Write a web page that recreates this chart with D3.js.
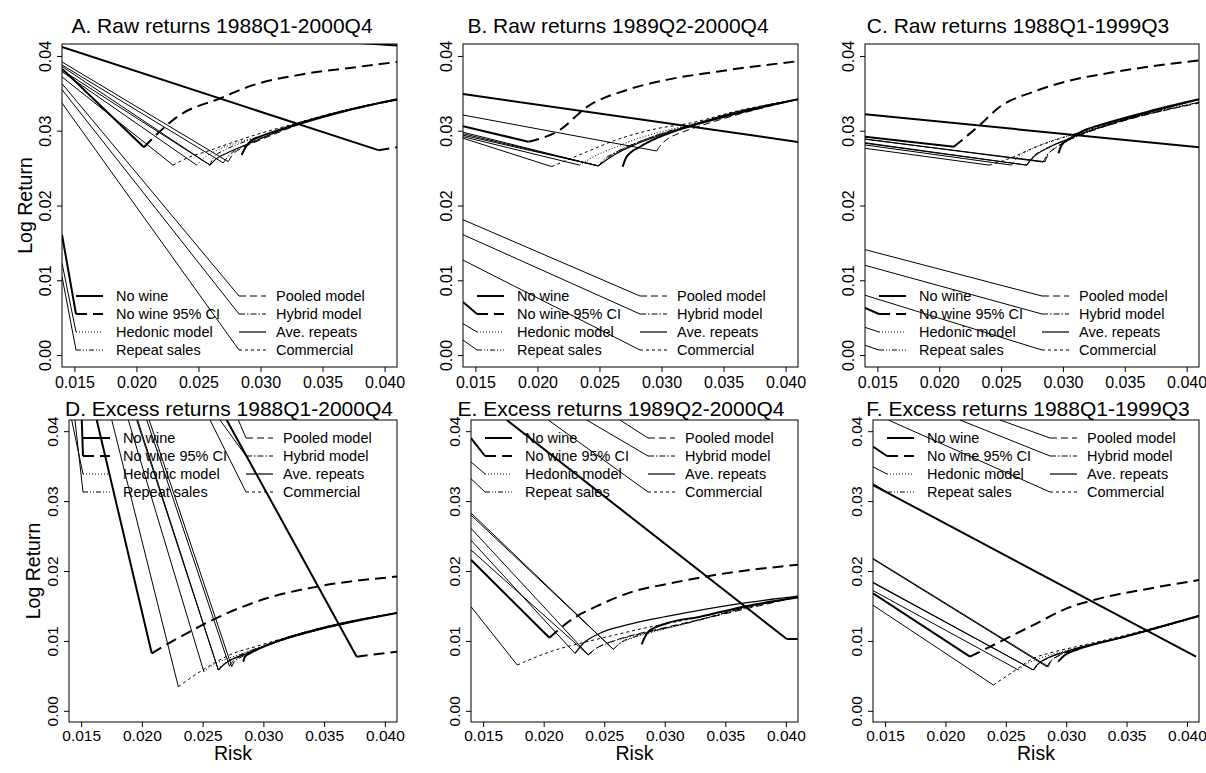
<!DOCTYPE html>
<html>
<head>
<meta charset="utf-8">
<script src="https://cdn.jsdelivr.net/npm/d3@7"></script>
<style>
  html, body { margin: 0; padding: 0; background: #fff; }
  svg { display: block; font-family: "Liberation Sans", Arial, sans-serif; }
</style>
</head>
<body>
<svg id="chart" width="1206" height="773"></svg>
<script>
// ---- shared axis settings -------------------------------------------------
const xDomain = [0.014, 0.041];
const yDomain = [-0.0016, 0.0416];
const xTicks = [0.015, 0.020, 0.025, 0.030, 0.035, 0.040];
const yTicks = [0.00, 0.01, 0.02, 0.03, 0.04];

// legend entries: [series key, label]
const legendKeys = ["noWine", "noWineCI", "hedonic", "repeatSales", "pooled", "hybrid", "aveRepeats", "commercial"];
const legendLabels = ["No wine", "No wine 95% CI", "Hedonic model", "Repeat sales", "Pooled model", "Hybrid model", "Ave. repeats", "Commercial"];

const panelTitles = [
  "A. Raw returns 1988Q1-2000Q4", "B. Raw returns 1989Q2-2000Q4", "C. Raw returns 1988Q1-1999Q3",
  "D. Excess returns 1988Q1-2000Q4", "E. Excess returns 1989Q2-2000Q4", "F. Excess returns 1988Q1-1999Q3"
];

// ---- Panel A: frontier branches, connector segments, legend connectors -------
const curvesA = [
  ["noWineCI", [[0.0206,0.0278],[0.0235,0.0321],[0.0267,0.0343],[0.0294,0.0361],[0.0332,0.0375],[0.0372,0.0384],[0.041,0.0392]]],
  ["noWineCI", [[0.0395,0.0274],[0.041,0.0278]]],
  ["noWine", [[0.0374,0.0418],[0.041,0.0414]]],
  ["noWine", [[0.02848,0.02675],[0.02875,0.02765],[0.02915,0.02853],[0.02996,0.0292],[0.0315,0.0301],[0.0335,0.0311],[0.037,0.0327],[0.041,0.0342]]],
  ["commercial", [[0.02295,0.0254],[0.0243,0.0265],[0.0258,0.0273],[0.0275,0.0283],[0.0295,0.0294],[0.032,0.0306],[0.036,0.0324],[0.041,0.0342]]],
  ["hedonic", [[0.02486,0.0254],[0.0254,0.0263],[0.0264,0.0273],[0.0279,0.0283],[0.030,0.0293],[0.0325,0.0308],[0.036,0.0323],[0.041,0.0342]]],
  ["repeatSales", [[0.02593,0.0254],[0.0262,0.0264],[0.0271,0.0274],[0.0285,0.0284],[0.0303,0.0294],[0.033,0.031],[0.041,0.0342]]],
  ["aveRepeats", [[0.02593,0.0254],[0.0264,0.0262],[0.0274,0.0271],[0.0288,0.0281],[0.0305,0.0293],[0.033,0.0309],[0.041,0.0342]]],
  ["hybrid", [[0.0270,0.0257],[0.0274,0.0266],[0.0282,0.0276],[0.0294,0.0285],[0.031,0.0296],[0.0335,0.0311],[0.041,0.0341]]],
  ["pooled", [[0.0274,0.02586],[0.0277,0.0267],[0.0284,0.0276],[0.0296,0.0285],[0.0312,0.0296],[0.0335,0.0311],[0.041,0.0341]]]
];
const tailsA = [
  ["noWine", [0.014,0.0412], [0.0395,0.0274]],
  ["noWineCI", [0.014,0.0383], [0.0206,0.0278]],
  ["commercial", [0.014,0.0372], [0.02295,0.0254]],
  ["hedonic", [0.014,0.0379], [0.02486,0.0254]],
  ["repeatSales", [0.014,0.0381], [0.02593,0.0254]],
  ["aveRepeats", [0.014,0.0386], [0.02593,0.0254]],
  ["hybrid", [0.014,0.0388], [0.0270,0.0257]],
  ["pooled", [0.014,0.0392], [0.0274,0.02586]]
];
const linksA = [
  ["pooled", [0.014,0.0363]], ["hybrid", [0.014,0.0355]], ["commercial", [0.014,0.0337]],
  ["noWineCI", [0.014,0.0161]], ["hedonic", [0.014,0.0123]], ["repeatSales", [0.014,0.0105]]
];

// ---- Panel B ----------------------------------------------------------------
const curvesB = [
  ["noWineCI", [[0.01927,0.02853],[0.0218,0.0301],[0.024,0.0332],[0.0272,0.03545],[0.0304,0.0368],[0.03445,0.0379],[0.041,0.0393]]],
  ["noWine", [[0.02687,0.02519],[0.02719,0.02653],[0.02827,0.02786],[0.02988,0.0292],[0.03176,0.03032],[0.034,0.0314],[0.037,0.0327],[0.041,0.0342]]],
  ["pooled", [[0.02961,0.02729],[0.02985,0.0279],[0.0304,0.0288],[0.0315,0.0297],[0.0325,0.0303],[0.036,0.0321],[0.041,0.0342]]],
  ["commercial", [[0.02115,0.0252],[0.024,0.0272],[0.0264,0.0288],[0.0294,0.0302],[0.0325,0.0311],[0.036,0.0326],[0.041,0.0342]]],
  ["hedonic", [[0.0234,0.0254],[0.0245,0.0265],[0.026,0.0276],[0.028,0.0289],[0.0303,0.0300],[0.0325,0.0309],[0.036,0.0325],[0.041,0.0342]]],
  ["repeatSales", [[0.0249,0.0253],[0.0256,0.0263],[0.0268,0.0275],[0.0285,0.0287],[0.0305,0.0299],[0.0325,0.0308],[0.036,0.0324],[0.041,0.0342]]],
  ["hybrid", [[0.0249,0.0253],[0.0254,0.0262],[0.0264,0.0272],[0.028,0.0284],[0.030,0.0296],[0.0325,0.0307],[0.036,0.0324],[0.041,0.0342]]],
  ["aveRepeats", [[0.0249,0.0253],[0.0262,0.0268],[0.0278,0.0281],[0.0297,0.0293],[0.0325,0.0308],[0.036,0.0325],[0.041,0.0342]]]
];
const tailsB = [
  ["noWine", [0.014,0.0349], [0.041,0.0285]],
  ["noWineCI", [0.014,0.0306], [0.01927,0.02853]],
  ["pooled", [0.014,0.0321], [0.02961,0.02729]],
  ["commercial", [0.014,0.0290], [0.02115,0.0252]],
  ["hedonic", [0.014,0.0292], [0.0234,0.0254]],
  ["repeatSales", [0.014,0.0294], [0.0249,0.0253]],
  ["hybrid", [0.014,0.0296], [0.0249,0.0253]],
  ["aveRepeats", [0.014,0.0298], [0.0249,0.0253]]
];
const linksB = [
  ["pooled", [0.014,0.0181]], ["hybrid", [0.014,0.0161]], ["commercial", [0.014,0.0127]],
  ["noWineCI", [0.014,0.0071]], ["hedonic", [0.014,0.0042]], ["repeatSales", [0.014,0.0020]]
];

// ---- Panel C ----------------------------------------------------------------
const curvesC = [
  ["noWineCI", [[0.0212,0.02787],[0.0233,0.0308],[0.0249,0.0332],[0.0276,0.0352],[0.0303,0.0366],[0.03435,0.0379],[0.041,0.0394]]],
  ["noWine", [[0.02963,0.02698],[0.0299,0.0281],[0.0305,0.0289],[0.03165,0.0300],[0.0335,0.0310],[0.037,0.0326],[0.041,0.0342]]],
  ["commercial", [[0.02405,0.0254],[0.026,0.0265],[0.0276,0.0277],[0.0293,0.0287],[0.0314,0.0298],[0.0344,0.0313],[0.0384,0.0331],[0.041,0.0342]]],
  ["hedonic", [[0.02586,0.0254],[0.0263,0.0264],[0.0273,0.0274],[0.029,0.0286],[0.031,0.0296],[0.0344,0.0312],[0.041,0.0341]]],
  ["repeatSales", [[0.02707,0.0254],[0.0275,0.0264],[0.0285,0.0275],[0.030,0.0286],[0.0315,0.0296],[0.0344,0.0311],[0.041,0.0338]]],
  ["aveRepeats", [[0.02707,0.0254],[0.0277,0.0266],[0.0289,0.0278],[0.0303,0.0288],[0.0318,0.0298],[0.0344,0.0312],[0.041,0.0342]]],
  ["pooled", [[0.02855,0.02586],[0.0288,0.0268],[0.0295,0.0278],[0.0305,0.0288],[0.0318,0.0297],[0.0344,0.0311],[0.041,0.0337]]],
  ["hybrid", [[0.0284,0.0258],[0.0287,0.0267],[0.0293,0.0276],[0.0303,0.0286],[0.0317,0.0296],[0.0344,0.0311],[0.041,0.0338]]]
];
const tailsC = [
  ["noWine", [0.014,0.0322], [0.041,0.0278]],
  ["noWineCI", [0.014,0.0292], [0.0212,0.02787]],
  ["commercial", [0.014,0.02765], [0.02405,0.0254]],
  ["hedonic", [0.014,0.0281], [0.02586,0.0254]],
  ["repeatSales", [0.014,0.02832], [0.02707,0.0254]],
  ["aveRepeats", [0.014,0.0284], [0.02707,0.0254]],
  ["pooled", [0.014,0.02886], [0.02855,0.02586]],
  ["hybrid", [0.014,0.0289], [0.0284,0.0258]]
];
const linksC = [
  ["pooled", [0.014,0.0141]], ["hybrid", [0.014,0.0120]], ["commercial", [0.014,0.0080]],
  ["noWineCI", [0.014,0.0063]], ["hedonic", [0.014,0.0037]], ["repeatSales", [0.014,0.0013]]
];

// ---- Panel D ----------------------------------------------------------------
const curvesD = [
  ["noWineCI", [[0.02081,0.00822],[0.02369,0.01109],[0.02698,0.01394],[0.03027,0.0161],[0.03439,0.01775],[0.041,0.0192]]],
  ["noWineCI", [[0.03768,0.00774],[0.041,0.00846]]],
  ["noWine", [[0.02835,0.00703],[0.02849,0.00775],[0.0289,0.00823],[0.02972,0.00894],[0.0311,0.0099],[0.0347,0.0117],[0.041,0.0140]]],
  ["commercial", [[0.023,0.00345],[0.02478,0.0056],[0.02615,0.00703],[0.02752,0.00822],[0.0290,0.0090],[0.0311,0.0101],[0.0347,0.0118],[0.041,0.0140]]],
  ["hedonic", [[0.0251,0.0056],[0.0258,0.0065],[0.0268,0.0073],[0.0283,0.0082],[0.0297,0.0091],[0.0311,0.0100],[0.0347,0.0118],[0.041,0.0140]]],
  ["repeatSales", [[0.02629,0.00584],[0.0266,0.0065],[0.0271,0.0071],[0.02835,0.0082],[0.0297,0.0091],[0.0311,0.0100],[0.041,0.0140]]],
  ["aveRepeats", [[0.02629,0.00584],[0.0268,0.0067],[0.0276,0.0075],[0.0288,0.0083],[0.030,0.0092],[0.0312,0.0100],[0.041,0.0140]]],
  ["hybrid", [[0.0274,0.00631],[0.0276,0.0070],[0.0282,0.0077],[0.0291,0.0085],[0.0302,0.0093],[0.0315,0.0101],[0.041,0.0140]]],
  ["pooled", [[0.0272,0.0064],[0.0275,0.0071],[0.0281,0.0078],[0.0290,0.0085],[0.0301,0.0093],[0.0315,0.0101],[0.041,0.0140]]]
];
const tailsD = [
  ["noWine", [0.02698,0.0416], [0.03768,0.00774]],
  ["noWineCI", [0.01628,0.0416], [0.02081,0.00822]],
  ["commercial", [0.01752,0.0416], [0.023,0.00345]],
  ["hedonic", [0.01888,0.0416], [0.0251,0.0056]],
  ["repeatSales", [0.01957,0.0416], [0.02629,0.00584]],
  ["aveRepeats", [0.01965,0.0416], [0.02629,0.00584]],
  ["pooled", [0.0204,0.0416], [0.0272,0.0064]],
  ["hybrid", [0.0206,0.0416], [0.0274,0.00631]]
];
const linksD = [
  ["hedonic", [0.01422,0.0416]], ["repeatSales", [0.01449,0.0416]], ["noWineCI", [0.01505,0.0416]],
  ["commercial", [0.02561,0.0416]], ["hybrid", [0.02643,0.0416]], ["pooled", [0.02794,0.0416]]
];

// ---- Panel E ----------------------------------------------------------------
const curvesE = [
  ["noWineCI", [[0.02047,0.01046],[0.02245,0.01322],[0.02465,0.01517],[0.0274,0.01708],[0.03016,0.01813],[0.03429,0.01947],[0.041,0.0209]]],
  ["noWineCI", [[0.04007,0.01027],[0.041,0.01027]]],
  ["noWine", [[0.02809,0.00951],[0.02864,0.01132],[0.03016,0.01252],[0.03292,0.01347],[0.0368,0.0150],[0.041,0.0162]]],
  ["commercial", [[0.01782,0.00655],[0.02053,0.00845],[0.02355,0.00988],[0.02576,0.0108],[0.0285,0.0119],[0.032,0.0131],[0.0368,0.0149],[0.041,0.0163]]],
  ["aveRepeats", [[0.02259,0.0082],[0.0233,0.0097],[0.02465,0.0111],[0.0274,0.0125],[0.03016,0.0135],[0.03566,0.0152],[0.041,0.0164]]],
  ["repeatSales", [[0.02369,0.008],[0.0242,0.0088],[0.0252,0.0096],[0.0268,0.0105],[0.029,0.0114],[0.032,0.0126],[0.0368,0.0148],[0.041,0.0163]]],
  ["pooled", [[0.02369,0.008],[0.0244,0.0090],[0.0256,0.0099],[0.0273,0.0108],[0.0295,0.0117],[0.0325,0.0129],[0.041,0.0163]]],
  ["hedonic", [[0.02575,0.0088],[0.0262,0.0095],[0.0270,0.0102],[0.0285,0.0110],[0.030,0.0117],[0.032,0.0126],[0.0368,0.0148],[0.041,0.0163]]],
  ["hybrid", [[0.02575,0.0088],[0.0264,0.0098],[0.0275,0.0106],[0.029,0.0114],[0.031,0.0122],[0.0368,0.0148],[0.041,0.0163]]]
];
const tailsE = [
  ["noWine", [0.01695,0.0416], [0.04007,0.01027]],
  ["noWineCI", [0.014,0.0216], [0.02047,0.01046]],
  ["commercial", [0.014,0.0149], [0.01782,0.00655]],
  ["aveRepeats", [0.014,0.0244], [0.02259,0.0082]],
  ["repeatSales", [0.014,0.0261], [0.02369,0.008]],
  ["pooled", [0.014,0.0230], [0.02369,0.008]],
  ["hedonic", [0.014,0.0283], [0.02575,0.0088]],
  ["hybrid", [0.014,0.0280], [0.02575,0.0088]]
];
const linksE = [
  ["noWineCI", [0.014,0.0390]], ["hedonic", [0.014,0.0356]], ["repeatSales", [0.014,0.0332]],
  ["commercial", [0.02038,0.0416]], ["hybrid", [0.02355,0.0416]], ["pooled", [0.0263,0.0416]]
];

// ---- Panel F ----------------------------------------------------------------
const curvesF = [
  ["noWineCI", [[0.02203,0.00774],[0.02342,0.00893],[0.02507,0.01036],[0.02728,0.01227],[0.03005,0.01465],[0.0328,0.01608],[0.03694,0.01751],[0.041,0.01871]]],
  ["noWine", [[0.02934,0.00703],[0.0299,0.00798],[0.03087,0.00873],[0.0325,0.0096],[0.0344,0.0104],[0.0367,0.0115],[0.041,0.0136]]],
  ["commercial", [[0.02397,0.00369],[0.02562,0.0056],[0.02728,0.00751],[0.0287,0.0083],[0.0309,0.0092],[0.0344,0.0106],[0.0367,0.0116],[0.041,0.0136]]],
  ["hedonic", [[0.02604,0.00584],[0.0265,0.0065],[0.0275,0.0073],[0.0289,0.0081],[0.0309,0.0090],[0.0344,0.0105],[0.041,0.0136]]],
  ["aveRepeats", [[0.02728,0.00584],[0.0276,0.0066],[0.0284,0.0075],[0.0297,0.0083],[0.0312,0.0091],[0.0344,0.0104],[0.041,0.0136]]],
  ["repeatSales", [[0.02728,0.00584],[0.0278,0.0068],[0.0287,0.0077],[0.0300,0.0085],[0.0315,0.0092],[0.0344,0.0104],[0.041,0.0135]]],
  ["pooled", [[0.02852,0.00632],[0.0287,0.0070],[0.0293,0.0078],[0.0302,0.0085],[0.0316,0.0092],[0.0344,0.0104],[0.041,0.0135]]],
  ["hybrid", [[0.0284,0.0063],[0.0287,0.0071],[0.0294,0.0079],[0.0304,0.0086],[0.0318,0.0093],[0.0344,0.0104],[0.041,0.0135]]]
];
const tailsF = [
  ["noWine", [0.014,0.0323], [0.04075,0.00774]],
  ["noWineCI", [0.014,0.0168], [0.02203,0.00774]],
  ["commercial", [0.014,0.0151], [0.02397,0.00369]],
  ["hedonic", [0.014,0.0172], [0.02604,0.00584]],
  ["aveRepeats", [0.014,0.0184], [0.02728,0.00584]],
  ["repeatSales", [0.014,0.0183], [0.02728,0.00584]],
  ["pooled", [0.014,0.0218], [0.02852,0.00632]],
  ["hybrid", [0.014,0.0217], [0.0284,0.0063]]
];
const linksF = [
  ["noWineCI", [0.014,0.0378]], ["hedonic", [0.014,0.0349]], ["repeatSales", [0.014,0.0325]],
  ["commercial", [0.01527,0.0416]], ["hybrid", [0.0212,0.0416]], ["pooled", [0.02452,0.0416]]
];

// ---- line styles per series --------------------------------------------------
const seriesStyle = {
  noWine:      { width: 2,   dash: null },
  noWineCI:    { width: 2,   dash: "11,6" },
  hedonic:     { width: 1,   dash: "1,2" },
  repeatSales: { width: 1,   dash: "5,2,1,2,1,2" },
  pooled:      { width: 1,   dash: "7,4" },
  hybrid:      { width: 1,   dash: "6,2,1.5,2" },
  aveRepeats:  { width: 1.2, dash: null },
  commercial:  { width: 1,   dash: "3,3" }
};

// ---- panel frames ----------------------------------------------------------------
const panels = [
  { id: "A", left: 62,  right: 397,  top: 44,  bottom: 367, titleX: 222,  titleY: 25,  legendAtTop: false, yLabelX: 25, curves: curvesA, tails: tailsA, links: linksA },
  { id: "B", left: 463, right: 798,  top: 44,  bottom: 367, titleX: 618,  titleY: 25,  legendAtTop: false, yLabelX: null, curves: curvesB, tails: tailsB, links: linksB },
  { id: "C", left: 865, right: 1199, top: 44,  bottom: 367, titleX: 1018, titleY: 25,  legendAtTop: false, yLabelX: null, curves: curvesC, tails: tailsC, links: linksC },
  { id: "D", left: 69,  right: 397,  top: 420, bottom: 722, titleX: 229,  titleY: 408, legendAtTop: true, yLabelX: 33, xLabel: true, curves: curvesD, tails: tailsD, links: linksD },
  { id: "E", left: 471, right: 798,  top: 420, bottom: 722, titleX: 621,  titleY: 408, legendAtTop: true, yLabelX: null, xLabel: true, curves: curvesE, tails: tailsE, links: linksE },
  { id: "F", left: 873, right: 1199, top: 420, bottom: 722, titleX: 1028, titleY: 408, legendAtTop: true, yLabelX: null, xLabel: true, curves: curvesF, tails: tailsF, links: linksF }
];

const svg = d3.select("#chart");
const defs = svg.append("defs");

function legendSlot(p, key) {
  const i = legendKeys.indexOf(key);
  const col = i < 4 ? 0 : 1;
  const row = i % 4;
  const rowY = p.legendAtTop ? p.top + 18 + row * 18 : p.bottom - 71 + row * 18;
  const sx = p.left + (col === 0 ? 14 : 177);
  return { x0: sx, x1: sx + 27, tx: p.left + (col === 0 ? 54 : 214), y: rowY };
}

function styleLine(sel, key) {
  const s = seriesStyle[key];
  sel.attr("fill", "none").attr("stroke", "#000").attr("stroke-width", s.width);
  if (s.dash) sel.attr("stroke-dasharray", s.dash);
  return sel;
}

panels.forEach((p, pi) => {
  const x = d3.scaleLinear().domain(xDomain).range([p.left, p.right]);
  const y = d3.scaleLinear().domain(yDomain).range([p.bottom, p.top]);
  const g = svg.append("g").attr("class", "panel-" + p.id);

  defs.append("clipPath").attr("id", "clip" + p.id)
    .append("rect").attr("x", p.left).attr("y", p.top)
    .attr("width", p.right - p.left).attr("height", p.bottom - p.top);

  const plot = g.append("g").attr("clip-path", "url(#clip" + p.id + ")");

  // straight connector segments (drawn solid)
  p.tails.forEach(([key, a, b]) => {
    plot.append("line")
      .attr("x1", x(a[0])).attr("y1", y(a[1]))
      .attr("x2", x(b[0])).attr("y2", y(b[1]))
      .attr("stroke", "#000")
      .attr("stroke-width", seriesStyle[key].width >= 2 ? 2 : 1);
  });

  // connectors running into the legend keys
  p.links.forEach(([key, a]) => {
    const s = legendSlot(p, key);
    plot.append("line")
      .attr("x1", x(a[0])).attr("y1", y(a[1]))
      .attr("x2", s.x0).attr("y2", s.y)
      .attr("stroke", "#000")
      .attr("stroke-width", seriesStyle[key].width >= 2 ? 2 : 1);
  });

  // efficient frontier branches
  const line = d3.line()
    .x(d => x(d[0])).y(d => y(d[1]))
    .curve(d3.curveMonotoneX);
  p.curves.forEach(([key, pts]) => {
    styleLine(plot.append("path").datum(pts).attr("d", line), key);
  });

  // legend
  const lg = g.append("g").attr("class", "legend");
  legendKeys.forEach((key, i) => {
    const s = legendSlot(p, key);
    styleLine(lg.append("line")
      .attr("x1", s.x0).attr("x2", s.x1).attr("y1", s.y).attr("y2", s.y), key);
    lg.append("text")
      .attr("x", s.tx).attr("y", s.y)
      .attr("dominant-baseline", "central")
      .attr("font-size", 14.5)
      .text(legendLabels[i]);
  });

  // plot box
  g.append("rect")
    .attr("x", p.left).attr("y", p.top)
    .attr("width", p.right - p.left).attr("height", p.bottom - p.top)
    .attr("fill", "none").attr("stroke", "#000").attr("stroke-width", 1);

  const tickFont = p.legendAtTop ? 15.5 : 16;

  // x axis
  const xa = g.append("g").attr("transform", "translate(0," + p.bottom + ")")
    .call(d3.axisBottom(x).tickValues(xTicks).tickFormat(d3.format(".3f")).tickSize(5));
  xa.select(".domain").remove();
  xa.selectAll("line").attr("stroke", "#000");
  xa.selectAll("text")
    .attr("y", p.legendAtTop ? 13 : 15).attr("dy", null)
    .attr("dominant-baseline", "central")
    .attr("font-size", tickFont).attr("font-family", "Liberation Sans, Arial, sans-serif")
    .attr("fill", "#000");

  // y axis, labels turned to read upwards
  const ya = g.append("g").attr("transform", "translate(" + p.left + ",0)")
    .call(d3.axisLeft(y).tickValues(yTicks).tickFormat(d3.format(".2f")).tickSize(5));
  ya.select(".domain").remove();
  ya.selectAll("line").attr("stroke", "#000");
  ya.selectAll("text")
    .attr("transform", "rotate(-90)")
    .attr("x", 0).attr("y", -17).attr("dy", null)
    .attr("text-anchor", "middle")
    .attr("dominant-baseline", "central")
    .attr("font-size", tickFont).attr("font-family", "Liberation Sans, Arial, sans-serif")
    .attr("fill", "#000");

  // titles
  g.append("text")
    .attr("x", p.titleX).attr("y", p.titleY)
    .attr("text-anchor", "middle").attr("dominant-baseline", "central")
    .attr("font-size", 21)
    .text(panelTitles[pi]);

  if (p.yLabelX !== null) {
    const cy = (p.top + p.bottom) / 2;
    g.append("text")
      .attr("transform", "translate(" + p.yLabelX + "," + cy + ") rotate(-90)")
      .attr("text-anchor", "middle").attr("dominant-baseline", "central")
      .attr("font-size", 19.5)
      .text("Log Return");
  }
  if (p.xLabel) {
    g.append("text")
      .attr("x", (p.left + p.right) / 2).attr("y", 753)
      .attr("text-anchor", "middle").attr("dominant-baseline", "central")
      .attr("font-size", 19.5)
      .text("Risk");
  }
});
</script>
</body>
</html>
